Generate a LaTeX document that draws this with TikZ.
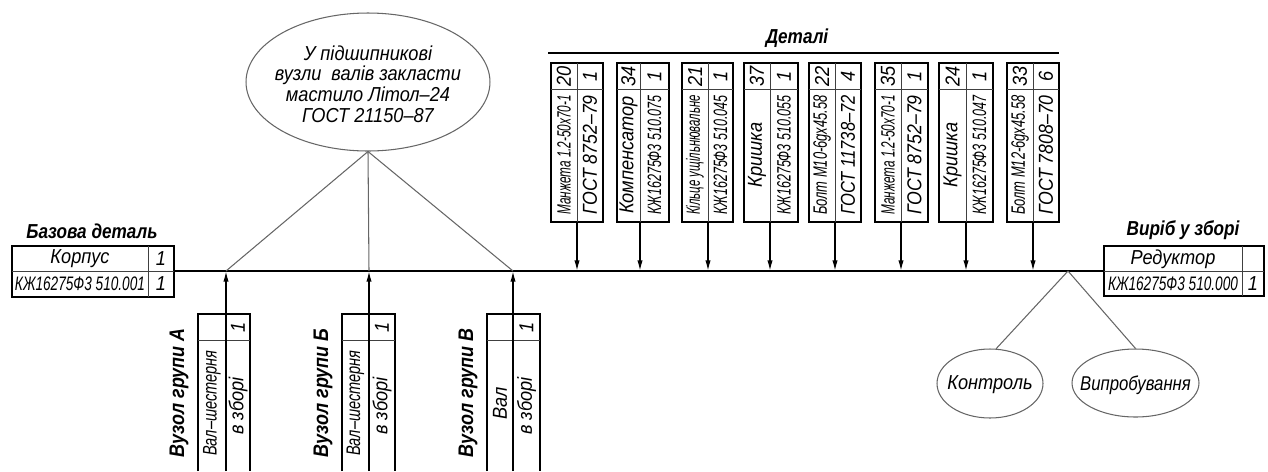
\documentclass[tikz,border=0pt]{standalone}
\usepackage{fontspec}
\setmainfont{Liberation Sans}[FakeStretch=0.9]
\newfontfamily\ttlfont{Liberation Sans}[FakeStretch=0.85]
\usetikzlibrary{arrows.meta,shapes.geometric}
\newsavebox\fitbox
\newcommand\fitto[2]{\sbox\fitbox{#2}%
  \ifdim\wd\fitbox>#1\relax
    \pgfmathsetmacro\fitx{(#1)/(\wd\fitbox)}%
    \pgfmathsetmacro\fity{(\fitx)^0.12}%
    \scalebox{\fitx}[\fity]{\usebox\fitbox}%
  \else\usebox\fitbox\fi}
\tikzset{
  txt/.style={font=\fontsize{11.5}{13}\selectfont\itshape, inner sep=0pt},
  rtxt/.style={txt, rotate=90},
  ttl/.style={font=\ttlfont\fontsize{11.5}{13}\selectfont\bfseries\itshape, inner sep=0pt},
  rttl/.style={ttl, font=\ttlfont\fontsize{12}{13}\selectfont\bfseries\itshape, rotate=90},
  boxline/.style={draw=black, line width=0.9pt},
  cell/.style={draw=black!75, line width=0.5pt},
  link/.style={draw=black!60, line width=0.6pt},
  mainline/.style={line width=1.3pt},
  arr/.style={-{Latex[length=6pt,width=3pt]}, line width=0.8pt},
  oval/.style={ellipse, draw=black!60, line width=0.6pt, inner sep=0pt},
}
\begin{document}
\begin{tikzpicture}[x=0.02cm,y=-0.02cm]
\useasboundingbox (0,0) rectangle (1268,471);

% base part
\draw[boxline] (12,246) rectangle (174,297);
\draw[cell] (12,271) -- (174,271) (148,246) -- (148,297);
\node[ttl] (basettl) at (92,231) {Базова деталь};
\node[txt] (korp) at (80,259) {Корпус};
\node[txt] (korpq) at (161,259) {1};
\node[txt] (korpd) at (80,284) {\fitto{74pt}{КЖ16275Ф3 510.001}};
\node[txt] (korpdq) at (161,284) {1};

% product
\draw[boxline] (1104,246) rectangle (1264,296);
\draw[cell] (1104,271) -- (1264,271) (1242,246) -- (1242,296);
\node[ttl] (prodttl) at (1183,230) {Виріб у зборі};
\node[txt] (red) at (1173,259) {Редуктор};
\node[txt] (redd) at (1173,284) {\fitto{74pt}{КЖ16275Ф3 510.000}};
\node[txt] (reddq) at (1253,284) {1};

% main line
\coordinate (mstart) at (174,271);
\coordinate (mend) at (1104,271);
\draw[mainline] (mstart) -- (mend);

% top ellipse
\node[oval, minimum width=4.88cm, minimum height=2.76cm] (ell) at (368,82) {};
\node[txt, align=center, font=\fontsize{11.5}{11.7}\selectfont\itshape] (elltxt) at (368,84)
  {У підшипникові\\вузли\ \ валів закласти\\мастило Літол–24\\ГОСТ 21150–87};
\coordinate (jA) at (226,271);
\coordinate (jB) at (369,271);
\coordinate (jC) at (513,271);
\draw[link] (ell.south) -- (jA);
\draw[link] (ell.south) -- (jB);
\draw[link] (ell.south) -- (jC);

% details title
\coordinate (dl) at (548,53);
\coordinate (dr) at (1059,53);
\draw[line width=1.1pt] (dl) -- (dr);
\node[ttl] (detttl) at (797,38) {Деталі};

% detail boxes
\foreach \l/\d/\r/\n/\q/\a/\b in {
  551/577/603/20/1/{Манжета 1.2-50х70-1}/{ГОСТ 8752–79},
  617/640/669/34/1/{Компенсатор}/{КЖ16275Ф3 510.075},
  682/708/733/21/1/{Кільце ущільнювальне}/{КЖ16275Ф3 510.045},
  744/770/798/37/1/{Кришка}/{КЖ16275Ф3 510.055},
  809/835/861/22/4/{Болт М10-6gх45.58}/{ГОСТ 11738–72},
  875/901/928/35/1/{Манжета 1.2-50х70-1}/{ГОСТ 8752–79},
  939/966/993/24/1/{Кришка}/{КЖ16275Ф3 510.047},
  1007/1033/1059/33/6/{Болт М12-6gх45.58}/{ГОСТ 7808–70}}{
  \draw[boxline] (\l,63) rectangle (\r,222);
  \draw[cell] (\l,89) -- (\r,89) (\d,63) -- (\d,222);
  \node[rtxt] (n\d) at ({(\l+\d)/2},76) {\n};
  \node[rtxt] (q\d) at ({(\d+\r)/2},76) {\q};
  \node[rtxt] (a\d) at ({(\l+\d)/2},155) {\fitto{68pt}{\a}};
  \node[rtxt] (b\d) at ({(\d+\r)/2},155) {\fitto{68pt}{\b}};
  \coordinate (t\d) at (\d,222);
  \coordinate (j\d) at (\d,271);
  \draw[arr] (t\d) -- (j\d);
}

% bottom groups
\foreach \l/\d/\r/\g/\a in {
  198/226/250/А/{Вал–шестерня},
  342/369/395/Б/{Вал–шестерня},
  487/513/540/В/{Вал}}{
  \draw[boxline] (\l,471) -- (\l,314) -- (\r,314) -- (\r,471);
  \draw[cell] (\l,340) -- (\r,340);
  \node[rttl] (g\d) at ({\l-19},393) {Вузол групи \g};
  \node[rtxt] (gq\d) at ({(\d+\r)/2},327) {1};
  \node[rtxt] (ga\d) at ({(\l+\d)/2},403) {\fitto{60pt}{\a}};
  \node[rtxt] (gb\d) at ({(\d+\r)/2},406) {в зборі};
  \coordinate (s\d) at (\d,471);
  \coordinate (e\d) at (\d,271);
  \draw[arr] (s\d) -- (e\d);
}

% control & testing
\coordinate (split) at (1068,271);
\node[oval, minimum width=2.12cm, minimum height=1.38cm] (ctrl) at (990,383.5) {};
\node[txt] (ctrlt) at (990,385) {Контроль};
\node[oval, minimum width=2.54cm, minimum height=1.36cm] (test) at (1135.5,383) {};
\node[txt] (testt) at (1135.5,385) {\fitto{63pt}{Випробування}};
\draw[link] (split) -- (ctrl.80);
\draw[link] (split) -- (test.north);
\end{tikzpicture}
\end{document}
